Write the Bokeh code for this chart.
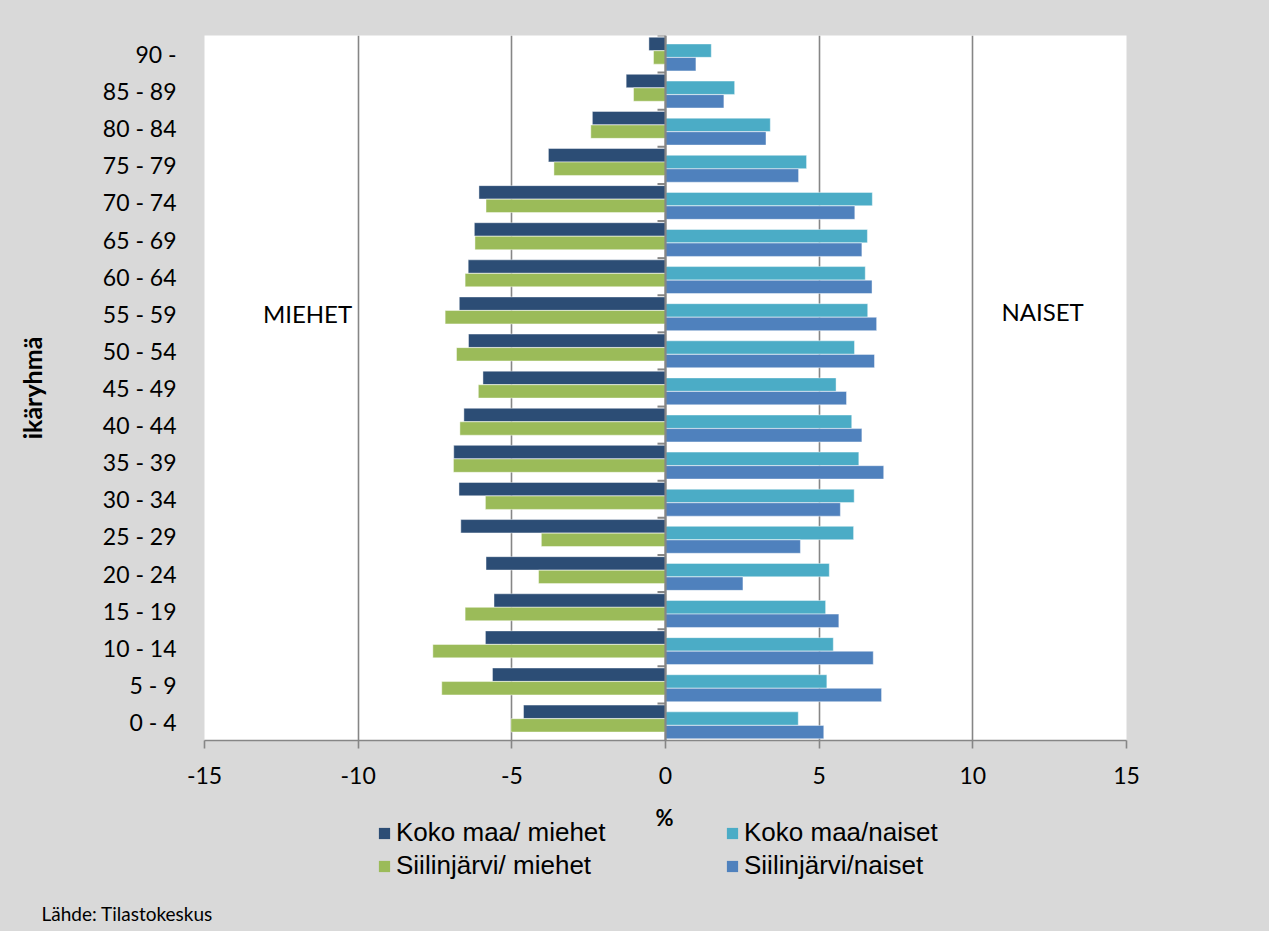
from bokeh.plotting import figure
from bokeh.layouts import column
from bokeh.models import (ColumnDataSource, Legend, LegendItem, Label, Span, FixedTicker,
                          Range1d, Title)
from bokeh.transform import dodge
from bokeh.embed import file_html
from bokeh.resources import INLINE

# Age groups, bottom to top
categories = ["0 - 4", "5 - 9", "10 - 14", "15 - 19", "20 - 24", "25 - 29", "30 - 34",
              "35 - 39", "40 - 44", "45 - 49", "50 - 54", "55 - 59", "60 - 64",
              "65 - 69", "70 - 74", "75 - 79", "80 - 84", "85 - 89", "90 -"]

koko_maa_miehet = [-4.62, -5.63, -5.86, -5.58, -5.84, -6.66, -6.72, -6.89, -6.56, -5.94,
                   -6.41, -6.71, -6.42, -6.22, -6.07, -3.81, -2.38, -1.28, -0.54]
siilinjarvi_miehet = [-5.03, -7.28, -7.57, -6.52, -4.13, -4.04, -5.86, -6.90, -6.69, -6.09,
                      -6.80, -7.17, -6.52, -6.20, -5.84, -3.63, -2.43, -1.04, -0.39]
koko_maa_naiset = [4.32, 5.25, 5.46, 5.21, 5.33, 6.12, 6.14, 6.29, 6.06, 5.55,
                   6.15, 6.58, 6.50, 6.57, 6.73, 4.59, 3.41, 2.25, 1.49]
siilinjarvi_naiset = [5.15, 7.03, 6.76, 5.64, 2.52, 4.39, 5.69, 7.10, 6.39, 5.89,
                      6.80, 6.87, 6.72, 6.39, 6.16, 4.33, 3.27, 1.90, 0.99]

x_ticks = [-15, -10, -5, 0, 5, 10, 15]
x_tick_labels = ["-15", "-10", "-5", "0", "5", "10", "15"]

series_names = ["Koko maa/ miehet", "Siilinjärvi/ miehet", "Koko maa/naiset", "Siilinjärvi/naiset"]
colors = ["#2C4D75", "#9BBB59", "#4BACC6", "#4F81BD"]

idx = list(range(len(categories)))
src = ColumnDataSource(dict(y=idx, km=koko_maa_miehet, sm=siilinjarvi_miehet,
                            kn=koko_maa_naiset, sn=siilinjarvi_naiset))

GRAY = "#868686"
BG = "#D9D9D9"
W = 1269
H_MAIN = 800
H_FOOT = 131
FRAME_L, FRAME_R = 204, 1126

p = figure(width=W, height=H_MAIN, output_backend="svg", toolbar_location=None,
           x_range=(-15, 15), y_range=(-0.5, len(categories) - 0.5),
           min_border_left=FRAME_L, min_border_right=W - FRAME_R, min_border_top=35,
           min_border_bottom=60)
p.background_fill_color = "white"
p.border_fill_color = BG
p.outline_line_color = None

bar_h = 0.36
fields = ["km", "kn", "sm", "sn"]
offs = [0.274, 0.092, -0.092, -0.274]
col_map = {"km": colors[0], "sm": colors[1], "kn": colors[2], "sn": colors[3]}
for f, o in zip(fields, offs):
    p.hbar(y=dodge("y", o), left=0, right=f, height=bar_h, source=src,
           fill_color=col_map[f], line_color="white", line_alpha=0.55, line_width=0.8)

# grid
p.ygrid.visible = False
p.xgrid.ticker = FixedTicker(ticks=x_ticks)
p.xgrid.grid_line_color = GRAY
p.xgrid.grid_line_width = 1.6

# zero axis line and category ticks
p.add_layout(Span(location=0, dimension="height", line_color=GRAY, line_width=2.2))
bounds = [i - 0.5 for i in range(1, len(categories))] + [len(categories) - 0.5]
p.segment(x0=[-0.26] * len(bounds), x1=[0] * len(bounds), y0=bounds, y1=bounds,
          line_color=GRAY, line_width=2)

# x axis
xa = p.xaxis[0]
xa.ticker = FixedTicker(ticks=x_ticks)
xa.major_label_overrides = {t: s for t, s in zip(x_ticks, x_tick_labels)}
xa.minor_tick_line_color = None
xa.axis_line_color = GRAY
xa.axis_line_width = 1.6
xa.major_tick_line_color = GRAY
xa.major_tick_line_width = 1.6
xa.major_tick_out = 8
xa.major_tick_in = 0
xa.major_label_standoff = 18
xa.major_label_text_font = "Lato"
xa.major_label_text_font_size = "23px"
xa.major_label_text_color = "black"

# y axis
ya = p.yaxis[0]
ya.ticker = FixedTicker(ticks=idx)
ya.major_label_overrides = {i: c for i, c in enumerate(categories)}
ya.axis_line_color = None
ya.major_tick_line_color = None
ya.minor_tick_line_color = None
ya.major_label_standoff = 22
ya.major_label_text_font = "Lato"
ya.major_label_text_font_size = "23px"
ya.major_label_text_color = "black"
ya.axis_label = "ikäryhmä"
ya.axis_label_text_font = "Lato"
ya.axis_label_text_font_style = "bold"
ya.axis_label_text_font_size = "25px"
ya.axis_label_text_color = "black"
ya.axis_label_standoff = 53

# side labels
p.add_layout(Label(x=-13.1, y=11, text="MIEHET", text_font="Lato", text_font_size="24px",
                   text_baseline="middle", text_align="left", text_color="black"))
p.add_layout(Label(x=10.93, y=11.05, text="NAISET", text_font="Lato", text_font_size="24px",
                   text_baseline="middle", text_align="left", text_color="black"))

# ---- footer: axis title, legend, source ----
FOOT_BOTTOM = 900
f2 = figure(width=W, height=H_FOOT, output_backend="svg", toolbar_location=None,
            x_range=Range1d(FRAME_L, FRAME_R), y_range=Range1d(FOOT_BOTTOM, H_MAIN),
            x_axis_location=None, y_axis_location=None,
            min_border_left=FRAME_L, min_border_right=W - FRAME_R, min_border_top=0,
            min_border_bottom=H_MAIN + H_FOOT - FOOT_BOTTOM)
f2.background_fill_color = BG
f2.border_fill_color = BG
f2.outline_line_color = BG
f2.outline_line_width = 3
f2.grid.visible = False

leg_rends = {}
for f in ["km", "sm", "kn", "sn"]:
    leg_rends[f] = f2.hbar(y="y", right=f, left=0, height=bar_h, source=src,
                           fill_color=col_map[f], line_color=None, visible=False)

f2.add_layout(Label(x=664, y=817, text="%", text_font="Lato", text_font_style="bold",
                    text_font_size="22px", text_align="center", text_baseline="middle",
                    text_color="black"))

legend = Legend(items=[LegendItem(label=series_names[0], renderers=[leg_rends["km"]]),
                       LegendItem(label=series_names[1], renderers=[leg_rends["sm"]]),
                       LegendItem(label=series_names[2], renderers=[leg_rends["kn"]]),
                       LegendItem(label=series_names[3], renderers=[leg_rends["sn"]])],
                orientation="vertical", nrows=2, location=(377 - FRAME_L, FOOT_BOTTOM - 881))
legend.label_text_font = "Liberation Sans"
legend.label_text_font_size = "26px"
legend.label_text_color = "black"
legend.glyph_width = 14
legend.glyph_height = 14
legend.label_standoff = 5
legend.label_width = 327
legend.spacing = 2
legend.padding = 0
legend.margin = 0
legend.background_fill_alpha = 0
legend.border_line_alpha = 0
legend.inactive_fill_alpha = 0
legend.click_policy = "none"
f2.add_layout(legend, "center")

f2.add_layout(Title(text="Lähde: Tilastokeskus", align="left", offset=41 - FRAME_L,
                    vertical_align="middle", standoff=0, text_font="Lato",
                    text_font_size="19px", text_font_style="normal", text_color="black"),
              "below")

layout = column(p, f2, spacing=0, styles={"background-color": BG})
open("out.html", "w").write(file_html(layout, INLINE))
